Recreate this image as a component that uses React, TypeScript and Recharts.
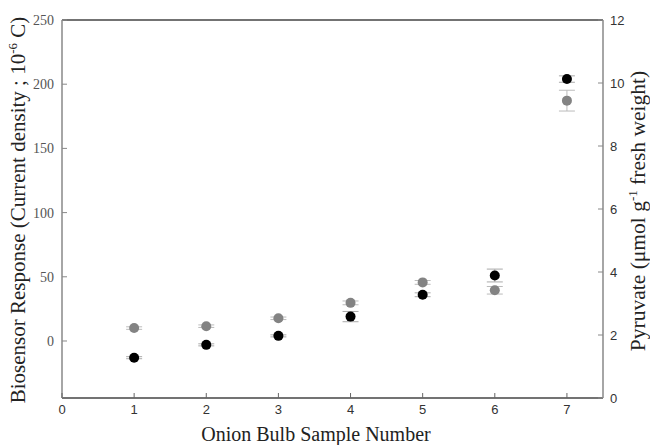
import React from "react";
import { ScatterChart, Scatter, XAxis, YAxis, ErrorBar, ReferenceLine } from "recharts";

const samples = [1, 2, 3, 4, 5, 6, 7];
const biosensor = [-13, -3, 4, 19, 36, 51, 204];
const biosensorErr = [0.8, 0.8, 0.8, 4, 1.5, 5, 2.5];
const pyruvate = [2.22, 2.28, 2.53, 3.02, 3.67, 3.42, 9.44];
const pyruvateErr = [0.04, 0.04, 0.04, 0.06, 0.06, 0.12, 0.33];

const xTicks = [0, 1, 2, 3, 4, 5, 6, 7];
const leftTicks = [0, 50, 100, 150, 200, 250];
const rightTicks = [0, 2, 4, 6, 8, 10, 12];

const bioData = samples.map((s, i) => ({ x: s, y: biosensor[i], e: biosensorErr[i] }));
const pyrData = samples.map((s, i) => ({ x: s, y: pyruvate[i], e: pyruvateErr[i] }));

const SERIF = "'Liberation Serif', 'Times New Roman', serif";
const SANS = "'Liberation Sans', Arial, sans-serif";

const XTick = (p: any) => (
  <g>
    <line x1={p.x} x2={p.x} y1={p.y} y2={p.y - 5} stroke="#666" strokeWidth={1} />
    <text x={p.x} y={p.y + 16} textAnchor="middle" fontFamily={SANS} fontSize={13} fill="#333">
      {p.payload.value}
    </text>
  </g>
);

const LTick = (p: any) => (
  <g>
    <line x1={p.x} x2={p.x + 5} y1={p.y} y2={p.y} stroke="#888" strokeWidth={1} />
    <text x={p.x - 8} y={p.y + 5} textAnchor="end" fontFamily={SERIF} fontSize={14} fill="#555">
      {p.payload.value}
    </text>
  </g>
);

const RTick = (p: any) => (
  <g>
    <line x1={p.x} x2={p.x - 5} y1={p.y} y2={p.y} stroke="#888" strokeWidth={1} />
    <text x={p.x + 7} y={p.y + 5} textAnchor="start" fontFamily={SANS} fontSize={13} fill="#333">
      {p.payload.value}
    </text>
  </g>
);

const Dot = (color: string) => (p: any) => <circle cx={p.cx} cy={p.cy} r={5} fill={color} />;

export default function App() {
  return (
    <div style={{ position: "absolute", left: 0, top: 0, width: 650, height: 445, background: "#fff" }}>
      <ScatterChart width={650} height={445} margin={{ top: 20, right: 0, left: 0, bottom: 0 }}>
        <XAxis
          type="number"
          dataKey="x"
          domain={[0, 7.5]}
          ticks={xTicks}
          allowDataOverflow
          height={47}
          tickSize={0}
          tickMargin={0}
          tickLine={false}
          tick={<XTick />}
          axisLine={{ stroke: "#444", strokeWidth: 1.5 }}
        />
        <YAxis
          yAxisId="L"
          type="number"
          dataKey="y"
          domain={[-44.4, 250]}
          ticks={leftTicks}
          allowDataOverflow
          width={62}
          tickSize={0}
          tickMargin={0}
          tickLine={false}
          tick={<LTick />}
          axisLine={{ stroke: "#888", strokeWidth: 1.5 }}
        />
        <YAxis
          yAxisId="R"
          orientation="right"
          type="number"
          dataKey="y"
          domain={[0, 12]}
          ticks={rightTicks}
          allowDataOverflow
          width={47}
          tickSize={0}
          tickMargin={0}
          tickLine={false}
          tick={<RTick />}
          axisLine={{ stroke: "#888", strokeWidth: 1.5 }}
        />
        <ReferenceLine yAxisId="L" y={250} stroke="#444" strokeWidth={1.5} />
        <Scatter yAxisId="R" data={pyrData} fill="#838383" shape={Dot("#838383")} isAnimationActive={false}>
          <ErrorBar dataKey="e" direction="y" width={8} stroke="#bbb" strokeWidth={1} />
        </Scatter>
        <Scatter yAxisId="L" data={bioData} fill="#000" shape={Dot("#000")} isAnimationActive={false}>
          <ErrorBar dataKey="e" direction="y" width={8} stroke="#aaa" strokeWidth={1} />
        </Scatter>
      </ScatterChart>
      <svg width={650} height={445} style={{ position: "absolute", left: 0, top: 0, pointerEvents: "none" }}>
        <text
          transform="translate(25,210) rotate(-90)"
          textAnchor="middle"
          fontFamily={SERIF}
          fontSize={21}
          fill="#222"
        >
          Biosensor Response (Current density ; 10
          <tspan fontSize={13} dy={-8}>-6</tspan>
          <tspan dy={8}> C)</tspan>
        </text>
        <text
          transform="translate(645,211) rotate(-90)"
          textAnchor="middle"
          fontFamily={SERIF}
          fontSize={21.5}
          fill="#222"
        >
          Pyruvate (μmol g
          <tspan fontSize={13} dy={-8}>-1</tspan>
          <tspan dy={8}> fresh weight)</tspan>
        </text>
        <text x={316} y={441} textAnchor="middle" fontFamily={SERIF} fontSize={20} fill="#222">
          Onion Bulb Sample Number
        </text>
      </svg>
    </div>
  );
}
